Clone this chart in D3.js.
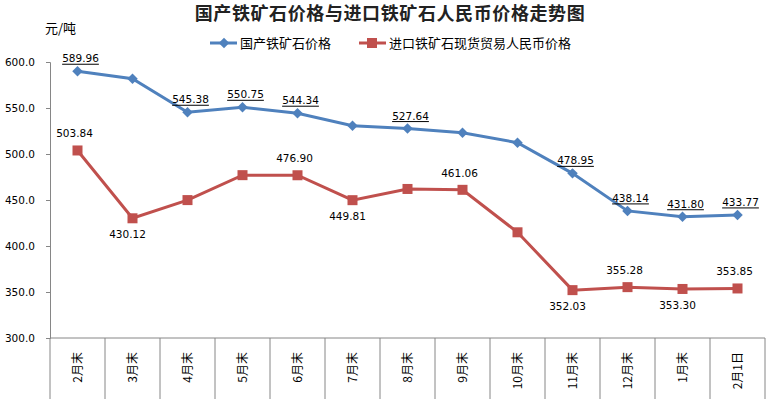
<!DOCTYPE html>
<html lang="zh">
<head>
<meta charset="UTF-8">
<title>国产铁矿石价格与进口铁矿石人民币价格走势图</title>
<script src="https://d3js.org/d3.v7.min.js"></script>
<style>
  body { margin: 0; background: #fff; }
  text { font-family: "DejaVu Sans", "Noto Sans CJK SC", sans-serif; fill: #000; }
  .cjk { font-family: "Noto Sans CJK SC", sans-serif; }
</style>
</head>
<body>
<svg width="776" height="399"></svg>
<script>
// categories and series
const months = ["2月末","3月末","4月末","5月末","6月末","7月末","8月末","9月末","10月末","11月末","12月末","1月末","2月1日"];
const domestic = [589.96, 581.9, 545.38, 550.75, 544.34, 530.8, 527.64, 523.2, 512.3, 478.95, 438.14, 431.80, 433.77];
const imported = [503.84, 430.12, 449.9, 477.0, 476.90, 449.81, 462.0, 461.06, 414.9, 352.03, 355.28, 353.30, 353.85];
// which points carry a value label (and where)
const domesticLabels = ["up", null, "up", "up", "up", null, "up", null, null, "up", "up", "up", "up"];
const importedLabels = ["up", "down", null, null, "up", "down", null, "up", null, "down", "up", "down", "up"];
const yTicks = [300, 350, 400, 450, 500, 550, 600];

const svg = d3.select("svg");
const blue = "#4F81BD", red = "#C0504D", axisGray = "#868686";

const x = d3.scaleBand().domain(months).range([50, 765]);
const y = d3.scaleLinear().domain([300, 600]).range([338, 62]);
const cx = d => x(d) + x.bandwidth() / 2;

// title
svg.append("text").attr("class", "cjk")
    .attr("x", 390).attr("y", 20)
    .attr("text-anchor", "middle")
    .style("font-size", "18px").style("font-weight", "bold").style("fill", "#222")
    .attr("letter-spacing", "0.6px")
    .text("国产铁矿石价格与进口铁矿石人民币价格走势图");

// unit
svg.append("text").attr("class", "cjk")
    .attr("x", 45).attr("y", 33)
    .style("font-size", "13px")
    .text("元/吨");

// y axis
const yAxis = svg.append("g")
    .attr("transform", "translate(50,0)")
    .call(d3.axisLeft(y).tickValues(yTicks).tickFormat(d3.format(".1f")).tickSize(4).tickPadding(11));
yAxis.select(".domain").attr("stroke", axisGray);
yAxis.selectAll(".tick line").attr("stroke", axisGray);
yAxis.selectAll("text").style("font-size", "10.5px").style("font-family", "DejaVu Sans").attr("fill", "#000");

// x axis: baseline and category separators
svg.append("line")
    .attr("x1", 50).attr("x2", 765).attr("y1", y(300)).attr("y2", y(300))
    .attr("stroke", axisGray);
const seps = months.map(m => x(m)).concat([x(months[months.length - 1]) + x.bandwidth()]);
svg.append("g").selectAll("line").data(seps).join("line")
    .attr("x1", d => d).attr("x2", d => d)
    .attr("y1", y(300)).attr("y2", 399)
    .attr("stroke", axisGray);
svg.append("g").selectAll("text").data(months).join("text")
    .attr("class", "cjk")
    .attr("transform", d => `translate(${cx(d) + 4},352) rotate(-90)`)
    .attr("text-anchor", "end")
    .style("font-size", "12px")
    .text(d => d);

// lines
const line = d3.line().x((d, i) => cx(months[i])).y(d => y(d));
svg.append("path").datum(imported)
    .attr("d", line).attr("fill", "none").attr("stroke", red).attr("stroke-width", 3);
svg.append("path").datum(domestic)
    .attr("d", line).attr("fill", "none").attr("stroke", blue).attr("stroke-width", 3);

// markers
svg.append("g").selectAll("rect").data(imported).join("rect")
    .attr("x", (d, i) => cx(months[i]) - 5).attr("y", d => y(d) - 5)
    .attr("width", 10).attr("height", 10).attr("fill", red);
const diamond = d3.symbol().type(d3.symbolDiamond2).size(70);
svg.append("g").selectAll("path").data(domestic).join("path")
    .attr("d", diamond)
    .attr("transform", (d, i) => `translate(${cx(months[i])},${y(d)})`)
    .attr("fill", blue);

// data labels
const fmt = d3.format(".2f");
const blueLab = svg.append("g").selectAll("g")
    .data(domestic.map((v, i) => ({v, i, pos: domesticLabels[i]})).filter(d => d.pos))
    .join("g")
    .attr("transform", d => `translate(${cx(months[d.i]) + 3},${y(d.v) - 9})`);
blueLab.append("text")
    .attr("text-anchor", "middle")
    .style("font-size", "10.5px")
    .text(d => fmt(d.v));
blueLab.each(function () {
    const t = d3.select(this).select("text");
    const w = t.node().getComputedTextLength();
    d3.select(this).append("line")
        .attr("x1", -w / 2).attr("x2", w / 2).attr("y1", 2).attr("y2", 2)
        .attr("stroke", "#000").attr("stroke-width", 1);
});

svg.append("g").selectAll("text")
    .data(imported.map((v, i) => ({v, i, pos: importedLabels[i]})).filter(d => d.pos))
    .join("text")
    .attr("x", d => cx(months[d.i]) + (d.pos === "up" ? -3 : -5))
    .attr("y", d => y(d.v) + (d.pos === "up" ? -13 : 20))
    .attr("text-anchor", "middle")
    .style("font-size", "10.5px")
    .text(d => fmt(d.v));

// legend
const legend = [
    {name: "国产铁矿石价格", color: blue, x: 210, shape: "diamond"},
    {name: "进口铁矿石现货贸易人民币价格", color: red, x: 359, shape: "square"}
];
const lg = svg.append("g").selectAll("g").data(legend).join("g")
    .attr("transform", d => `translate(${d.x},43)`);
lg.append("line").attr("x1", 0).attr("x2", 27).attr("y1", 0).attr("y2", 0)
    .attr("stroke", d => d.color).attr("stroke-width", 3);
lg.filter(d => d.shape === "diamond").append("path")
    .attr("d", diamond).attr("transform", "translate(14,0)").attr("fill", blue);
lg.filter(d => d.shape === "square").append("rect")
    .attr("x", 8).attr("y", -5).attr("width", 10).attr("height", 10).attr("fill", red);
lg.append("text").attr("class", "cjk")
    .attr("x", 30).attr("y", 5)
    .style("font-size", "13px")
    .text(d => d.name);
</script>
</body>
</html>
